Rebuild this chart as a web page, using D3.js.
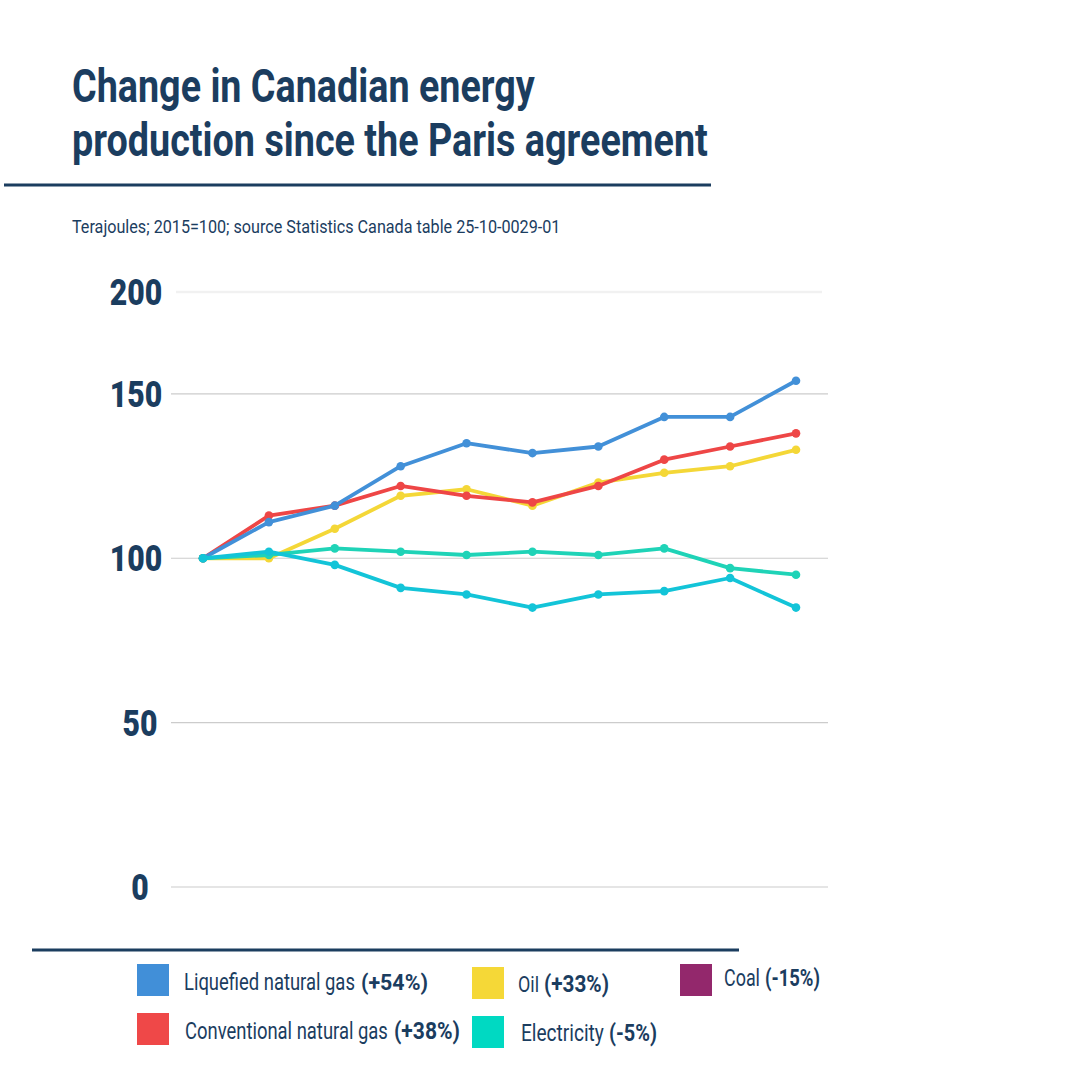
<!DOCTYPE html>
<html>
<head>
<meta charset="utf-8">
<script src="https://cdn.jsdelivr.net/npm/d3@7"></script>
<style>
  html, body { margin: 0; padding: 0; background: #fff; }
  svg { display: block; font-family: Roboto, "Noto Sans", sans-serif; }
</style>
</head>
<body>
<div id="chart"></div>
<script>
// Data (2015 = 100)
const years = [2015, 2016, 2017, 2018, 2019, 2020, 2021, 2022, 2023, 2024];
const seriesNames = ['Oil', 'Conventional natural gas', 'Liquefied natural gas', 'Electricity', 'Coal'];
const oil = [100, 100, 109, 119, 121, 116, 123, 126, 128, 133];
const conventionalGas = [100, 113, 116, 122, 119, 117, 122, 130, 134, 138];
const liquefiedGas = [100, 111, 116, 128, 135, 132, 134, 143, 143, 154];
const electricity = [100, 101, 103, 102, 101, 102, 101, 103, 97, 95];
const coal = [100, 102, 98, 91, 89, 85, 89, 90, 94, 85];
const yTicks = [0, 50, 100, 150, 200];

const legendNames = ['Liquefied natural gas', 'Oil', 'Coal', 'Conventional natural gas', 'Electricity'];
const legendChanges = ['(+54%)', '(+33%)', '(-15%)', '(+38%)', '(-5%)'];

// Styles
const CONFIG = {
    width: 1080,
    height: 1080,
    navy: '#1b3d5f',
    grid: '#cccccc',
    lineWidth: 3.8,
    dotRadius: 4.3
};
const lineColors = {
    'Oil': '#f4d737',
    'Conventional natural gas': '#ee4646',
    'Liquefied natural gas': '#4290d8',
    'Electricity': '#1fd3b7',
    'Coal': '#13c4d8'
};
const swatchColors = {
    'Liquefied natural gas': '#418fd8',
    'Oil': '#f5d837',
    'Coal': '#93286c',
    'Conventional natural gas': '#ef4848',
    'Electricity': '#00d9c2'
};
// legend layout: swatch x/y, name start/width, change start/width, baseline
const legendLayout = [
    { sx: 137, sy: 964, nx: 184, nw: 171, cx: 361, cw: 67, ty: 990 },
    { sx: 472, sy: 967, nx: 518, nw: 21, cx: 544, cw: 65, ty: 992 },
    { sx: 680, sy: 964, nx: 724, nw: 36, cx: 765, cw: 55, ty: 986 },
    { sx: 137, sy: 1013, nx: 185, nw: 203, cx: 394, cw: 66, ty: 1039 },
    { sx: 472, sy: 1016, nx: 521, nw: 83, cx: 609, cw: 48, ty: 1041 }
];

const values = {
    'Oil': oil,
    'Conventional natural gas': conventionalGas,
    'Liquefied natural gas': liquefiedGas,
    'Electricity': electricity,
    'Coal': coal
};

const svg = d3.select('#chart')
    .append('svg')
    .attr('width', CONFIG.width)
    .attr('height', CONFIG.height);

/**
 * Squeeze a text horizontally so it spans the given width (condensed look)
 */
function condense(sel, x, y, width, anchor) {
    sel.each(function() {
        const natural = this.getComputedTextLength();
        const s = width / natural;
        d3.select(this)
            .attr('x', 0).attr('y', 0)
            .attr('text-anchor', anchor || 'start')
            .attr('transform', `translate(${x},${y}) scale(${s},1)`);
    });
}

// Title block
const title = svg.append('g').attr('fill', CONFIG.navy);
title.append('text')
    .attr('font-size', 46).attr('font-weight', 700)
    .text('Change in Canadian energy')
    .call(condense, 72, 102, 463);
title.append('text')
    .attr('font-size', 46).attr('font-weight', 700)
    .text('production since the Paris agreement')
    .call(condense, 72, 156, 636);

svg.append('line')
    .attr('x1', 4).attr('x2', 711)
    .attr('y1', 185).attr('y2', 185)
    .attr('stroke', CONFIG.navy).attr('stroke-width', 3);

svg.append('text')
    .attr('fill', CONFIG.navy)
    .attr('font-size', 19)
    .text('Terajoules; 2015=100; source Statistics Canada table 25-10-0029-01')
    .call(condense, 72, 233, 489);

// Scales
const x = d3.scalePoint()
    .domain(years)
    .range([203, 796]);

const y = d3.scaleLinear()
    .domain([0, 181])
    .range([887, 292])
    .clamp(true);

// Grid lines
const grid = svg.append('g');
grid.selectAll('line')
    .data(yTicks)
    .enter().append('line')
    .attr('x1', d => d === 200 ? 176 : 171)
    .attr('x2', d => d === 200 ? 822 : 828)
    .attr('y1', d => y(d))
    .attr('y2', d => y(d))
    .attr('stroke', d => d === 200 ? '#f1f1f1' : CONFIG.grid)
    .attr('stroke-width', d => d === 200 ? 2.5 : 1.2);

// Y tick labels
svg.append('g')
    .selectAll('text')
    .data(yTicks)
    .enter().append('text')
    .attr('fill', CONFIG.navy)
    .attr('font-size', 37)
    .attr('font-weight', 900)
    .text(d => d)
    .each(function(d) {
        d3.select(this).call(condense, d < 100 ? 140 : 136, y(d) + 13, String(d).length * 17.5, 'middle');
    });

// Lines and points
const line = d3.line()
    .x((d, i) => x(years[i]))
    .y(d => y(d));

const series = svg.append('g')
    .selectAll('g')
    .data(seriesNames)
    .enter().append('g');

series.append('path')
    .attr('d', d => line(values[d]))
    .attr('fill', 'none')
    .attr('stroke', d => lineColors[d])
    .attr('stroke-width', CONFIG.lineWidth)
    .attr('stroke-linejoin', 'round')
    .attr('stroke-linecap', 'round');

series.selectAll('circle')
    .data(d => values[d].map((v, i) => ({ name: d, year: years[i], value: v })))
    .enter().append('circle')
    .attr('cx', d => x(d.year))
    .attr('cy', d => y(d.value))
    .attr('r', CONFIG.dotRadius)
    .attr('fill', d => lineColors[d.name]);

// Bottom rule
svg.append('line')
    .attr('x1', 32).attr('x2', 739)
    .attr('y1', 950).attr('y2', 950)
    .attr('stroke', CONFIG.navy).attr('stroke-width', 3);

// Legend
const legend = svg.append('g')
    .selectAll('g')
    .data(legendNames)
    .enter().append('g');

legend.append('rect')
    .attr('x', (d, i) => legendLayout[i].sx)
    .attr('y', (d, i) => legendLayout[i].sy)
    .attr('width', 32)
    .attr('height', 32)
    .attr('fill', d => swatchColors[d]);

legend.append('text')
    .attr('fill', CONFIG.navy)
    .attr('font-size', 23)
    .text(d => d)
    .each(function(d, i) {
        const l = legendLayout[i];
        d3.select(this).call(condense, l.nx, l.ty, l.nw);
    });

legend.append('text')
    .attr('fill', CONFIG.navy)
    .attr('font-size', 23)
    .attr('font-weight', 700)
    .text((d, i) => legendChanges[i])
    .each(function(d, i) {
        const l = legendLayout[i];
        d3.select(this).call(condense, l.cx, l.ty, l.cw);
    });
</script>
</body>
</html>
